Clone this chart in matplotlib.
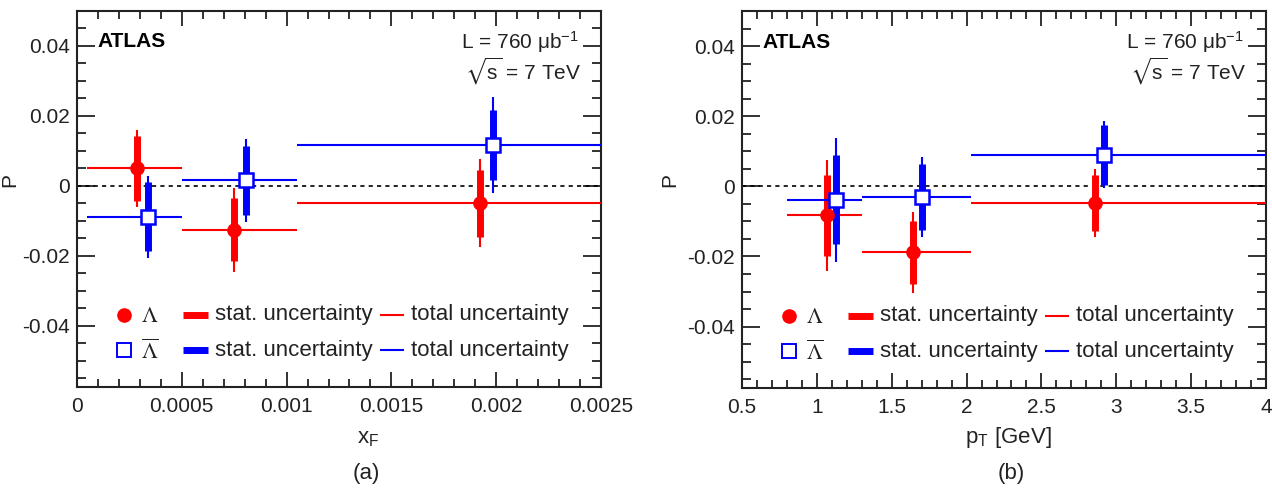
import matplotlib
matplotlib.use("Agg")
import matplotlib.pyplot as plt
from matplotlib.ticker import MultipleLocator, FixedLocator
from matplotlib.lines import Line2D

plt.rcParams['font.family'] = ['Liberation Sans', 'DejaVu Sans']
plt.rcParams['axes.unicode_minus'] = False
plt.rcParams['mathtext.fontset'] = 'stix'

# ---------------- data: panel (a) vs x_F ----------------
xf_bin_lo = [0.00005, 0.0005, 0.00105]
xf_bin_hi = [0.0005, 0.00105, 0.0025]
lam_xf = [0.000285, 0.000750, 0.001924]
lam_xf_P = [0.0050, -0.0125, -0.0050]
lam_xf_stat = [0.0093, 0.0090, 0.0095]
lam_xf_tot = [0.0110, 0.0120, 0.0126]
alam_xf = [0.000340, 0.000806, 0.001983]
alam_xf_P = [-0.0088, 0.0016, 0.0117]
alam_xf_stat = [0.0098, 0.0099, 0.0100]
alam_xf_tot = [0.0117, 0.0118, 0.0138]

# ---------------- data: panel (b) vs pT ----------------
pt_bin_lo = [0.80, 1.30, 2.03]
pt_bin_hi = [1.30, 2.03, 4.00]
lam_pt = [1.066, 1.644, 2.855]
lam_pt_P = [-0.0083, -0.0188, -0.0048]
lam_pt_stat = [0.0115, 0.0090, 0.0080]
lam_pt_tot = [0.0158, 0.0115, 0.0097]
alam_pt = [1.131, 1.704, 2.917]
alam_pt_P = [-0.0038, -0.0030, 0.0090]
alam_pt_stat = [0.0127, 0.0095, 0.0085]
alam_pt_tot = [0.0177, 0.0115, 0.0096]

RED = '#ff0000'
BLUE = '#0000ff'
TXT = '#222222'

W, H = 1272, 491
fig = plt.figure(figsize=(W / 100, H / 100), dpi=100)


def px_axes(l, r, t, b):
    return [l / W, 1 - b / H, (r - l) / W, (b - t) / H]


def draw_series(ax, x, P, stat, tot, lo, hi, color, marker):
    Plo_t = [p - e for p, e in zip(P, tot)]
    Phi_t = [p + e for p, e in zip(P, tot)]
    Plo_s = [p - e for p, e in zip(P, stat)]
    Phi_s = [p + e for p, e in zip(P, stat)]
    ax.vlines(x, Plo_t, Phi_t, colors=color, lw=1.5, capstyle='butt', zorder=3)
    ax.vlines(x, Plo_s, Phi_s, colors=color, lw=5, capstyle='butt', zorder=3)
    ax.hlines(P, lo, hi, colors=color, lw=1.5, capstyle='butt', zorder=3)
    if marker == 'o':
        ax.plot(x, P, 'o', ms=9.5, color=color, mec=color, zorder=4, ls='none')
    else:
        ax.plot(x, P, 's', ms=10, mfc='white', mec=color, mew=1.8, zorder=4, ls='none')


def style_axes(ax, xmajor, xminor):
    ax.set_ylim(-0.0575, 0.05)
    ax.yaxis.set_major_locator(FixedLocator([-0.04, -0.02, 0, 0.02, 0.04]))
    ax.yaxis.set_minor_locator(MultipleLocator(0.005))
    ax.xaxis.set_major_locator(MultipleLocator(xmajor))
    ax.xaxis.set_minor_locator(MultipleLocator(xminor))
    ax.set_yticklabels(['-0.04', '-0.02', '0', '0.02', '0.04'])
    for s in ax.spines.values():
        s.set_linewidth(1.5)
        s.set_color(TXT)
    ax.tick_params(which='both', direction='in', top=True, right=True,
                   width=1.3, color=TXT, labelcolor=TXT, labelsize=15)
    ax.tick_params(axis='x', which='major', length=11, pad=7)
    ax.tick_params(axis='x', which='minor', length=5.5)
    ax.tick_params(axis='y', which='major', length=13, pad=5)
    ax.tick_params(axis='y', which='minor', length=6.5)
    ax.axhline(0, color='black', lw=1.2, ls=(0, (2.5, 2.5)), zorder=2)

    ax.text(0.039, 0.9176, 'ATLAS', transform=ax.transAxes, fontsize=15,
            fontweight='bold', color='black', va='center', ha='left')
    ax.text(0.733, 0.9176, 'L = 760 μb$^{\\mathregular{-1}}$', transform=ax.transAxes,
            fontsize=15, color=TXT, va='center', ha='left')
    ax.text(0.740, 0.840, '$\\sqrt{\\mathregular{s}}$ = 7 TeV', transform=ax.transAxes,
            fontsize=15, color=TXT, va='center', ha='left')

    # legend
    rows = [(0.1915, RED, 'o', '$\\Lambda$'), (0.098, BLUE, 's', '$\\overline{\\Lambda}$')]
    for yy, c, m, lab in rows:
        if m == 'o':
            ax.plot([0.0897], [yy], 'o', ms=9.5, color=c, transform=ax.transAxes, clip_on=False)
        else:
            ax.plot([0.0897], [yy], 's', ms=10, mfc='white', mec=c, mew=1.4,
                    transform=ax.transAxes, clip_on=False)
        ax.text(0.139, yy - 0.005, lab, transform=ax.transAxes, fontsize=16,
                color=TXT, ha='center', va='center')
        ax.add_line(Line2D([0.202, 0.250], [yy, yy], lw=5, color=c,
                           transform=ax.transAxes, solid_capstyle='butt'))
        ax.text(0.263, yy, 'stat. uncertainty', transform=ax.transAxes, fontsize=16,
                color=TXT, ha='left', va='center')
        ax.add_line(Line2D([0.578, 0.624], [yy, yy], lw=1.5, color=c,
                           transform=ax.transAxes, solid_capstyle='butt'))
        ax.text(0.637, yy, 'total uncertainty', transform=ax.transAxes, fontsize=16,
                color=TXT, ha='left', va='center')


ax_a = fig.add_axes(px_axes(77, 601, 11, 387))
draw_series(ax_a, lam_xf, lam_xf_P, lam_xf_stat, lam_xf_tot, xf_bin_lo, xf_bin_hi, RED, 'o')
draw_series(ax_a, alam_xf, alam_xf_P, alam_xf_stat, alam_xf_tot, xf_bin_lo, xf_bin_hi, BLUE, 's')
ax_a.set_xlim(0, 0.0025)
style_axes(ax_a, 0.0005, 0.0001)
ax_a.set_xticks([0, 0.0005, 0.001, 0.0015, 0.002, 0.0025])
ax_a.set_xticklabels(['0', '0.0005', '0.001', '0.0015', '0.002', '0.0025'])

ax_b = fig.add_axes(px_axes(742, 1266, 11, 388))
draw_series(ax_b, lam_pt, lam_pt_P, lam_pt_stat, lam_pt_tot, pt_bin_lo, pt_bin_hi, RED, 'o')
draw_series(ax_b, alam_pt, alam_pt_P, alam_pt_stat, alam_pt_tot, pt_bin_lo, pt_bin_hi, BLUE, 's')
ax_b.set_xlim(0.5, 4)
style_axes(ax_b, 0.5, 0.1)
ax_b.set_xticks([0.5, 1, 1.5, 2, 2.5, 3, 3.5, 4])
ax_b.set_xticklabels(['0.5', '1', '1.5', '2', '2.5', '3', '3.5', '4'])

# axis titles and panel labels (absolute pixel positions)
def ftext(x, y, s, **kw):
    fig.text(x / W, 1 - y / H, s, ha='center', va='center', color=TXT, **kw)

ftext(10, 180, 'P', fontsize=15, rotation=90)
ftext(670, 180, 'P', fontsize=15, rotation=90)
ftext(368, 437, 'x$_\\mathregular{F}$', fontsize=16)
ftext(1008, 437, 'p$_\\mathregular{T}$ [GeV]', fontsize=16)
ftext(366, 473, '(a)', fontsize=16)
ftext(1011, 473, '(b)', fontsize=16)

fig.savefig('out.png', dpi=100)
